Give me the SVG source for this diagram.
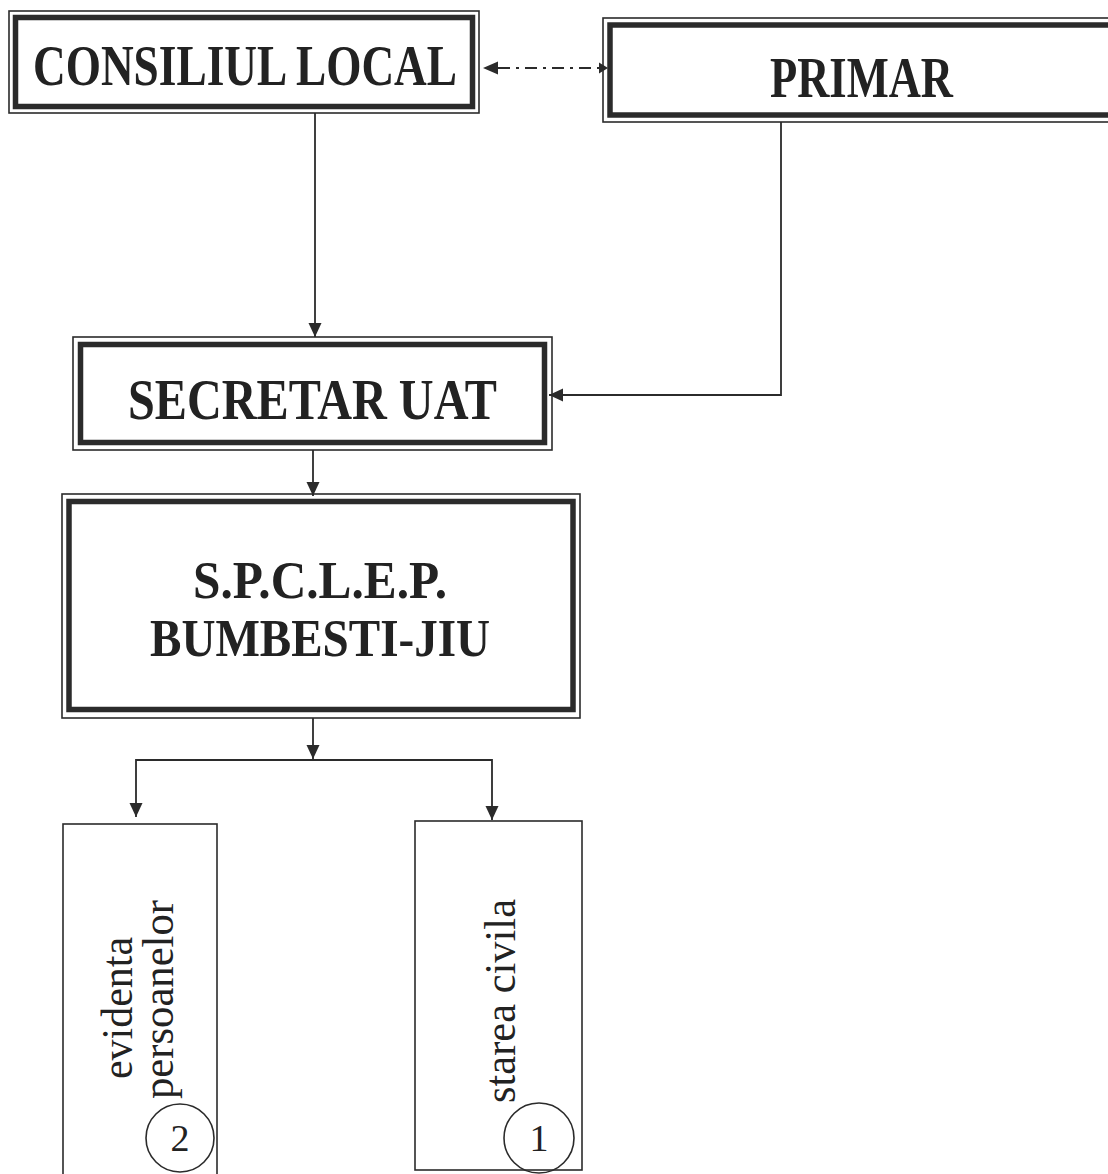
<svg xmlns="http://www.w3.org/2000/svg" width="1108" height="1174" viewBox="0 0 1108 1174">
<style>
.outer{fill:none;stroke:#2b2b2b;stroke-width:1.6}
.inner{fill:none;stroke:#2b2b2b;stroke-width:5.5}
.thin{fill:none;stroke:#2b2b2b;stroke-width:1.6}
.title{font-family:"Liberation Serif","Times New Roman",serif;font-weight:bold;fill:#222}
.lbl{font-family:"Liberation Serif","Times New Roman",serif;fill:#222}
.conn{fill:none;stroke:#2b2b2b;stroke-width:1.8}
</style>
<defs>
<marker id="arr" markerUnits="userSpaceOnUse" markerWidth="15" markerHeight="14" refX="14" refY="6.5" orient="auto-start-reverse">
<path d="M0,0 L14,6.5 L0,13 z" fill="#2b2b2b"/>
</marker>
<marker id="arrs" markerUnits="userSpaceOnUse" markerWidth="9" markerHeight="12" refX="8" refY="5.5" orient="auto">
<path d="M0,0 L8,5.5 L0,11 z" fill="#2b2b2b"/>
</marker>
</defs>
<rect width="1108" height="1174" fill="#ffffff"/>
<g id="connectors">
<line class="conn" x1="498" y1="68" x2="600" y2="68" stroke-dasharray="12 6 3 6"/>
<path d="M498,61.5 L483,68 L498,74.5 z" fill="#2b2b2b"/>
<path d="M599,62.5 L608,68 L599,73.5 z" fill="#2b2b2b"/>
<line class="conn" x1="315" y1="113" x2="315" y2="337" marker-end="url(#arr)"/>
<polyline class="conn" points="781,122 781,395 549,395" marker-end="url(#arr)"/>
<line class="conn" x1="313" y1="450" x2="313" y2="496" marker-end="url(#arr)"/>
<line class="conn" x1="313" y1="718" x2="313" y2="759" marker-end="url(#arr)"/>
<polyline class="conn" points="136,817 136,760 492,760 492,820" marker-end="url(#arr)"/>
<path d="M129.5,803 L136,817 L142.5,803 z" fill="#2b2b2b"/>
</g>
<g id="consiliul-local">
<rect class="outer" x="9" y="11" width="470" height="102"/>
<rect class="inner" x="15.5" y="17.5" width="457" height="89"/>
<text class="title" x="33" y="85" font-size="56" textLength="424" lengthAdjust="spacingAndGlyphs">CONSILIUL LOCAL</text>
</g>
<g id="primar">
<rect class="outer" x="603" y="18" width="520" height="104"/>
<rect class="inner" x="610" y="25" width="506" height="90"/>
<text class="title" x="770" y="97" font-size="56" textLength="183" lengthAdjust="spacingAndGlyphs">PRIMAR</text>
</g>
<g id="secretar-uat">
<rect class="outer" x="73" y="337" width="479" height="113"/>
<rect class="inner" x="80.5" y="344.5" width="464" height="98"/>
<text class="title" x="128" y="419" font-size="58" textLength="369" lengthAdjust="spacingAndGlyphs">SECRETAR UAT</text>
</g>
<g id="spclep">
<rect class="outer" x="62" y="494" width="518" height="224"/>
<rect class="inner" x="69" y="501.5" width="504" height="208"/>
<text class="title" x="193" y="598" font-size="52" textLength="254" lengthAdjust="spacingAndGlyphs">S.P.C.L.E.P.</text>
<text class="title" x="150" y="656" font-size="52" textLength="340" lengthAdjust="spacingAndGlyphs">BUMBESTI-JIU</text>
</g>
<g id="evidenta-persoanelor">
<rect class="thin" x="63" y="824" width="154" height="360"/>
<text class="lbl" font-size="44" transform="translate(132,1079) rotate(-90)" textLength="142" lengthAdjust="spacingAndGlyphs">evidenta</text>
<text class="lbl" font-size="44" transform="translate(173,1099) rotate(-90)" textLength="199" lengthAdjust="spacingAndGlyphs">persoanelor</text>
<circle class="thin" cx="180" cy="1138" r="34"/>
<text class="lbl" font-size="38" x="180" y="1151" text-anchor="middle">2</text>
</g>
<g id="starea-civila">
<rect class="thin" x="415" y="821" width="167" height="349"/>
<text class="lbl" font-size="44" transform="translate(515,1103) rotate(-90)" textLength="204" lengthAdjust="spacingAndGlyphs">starea civila</text>
<circle class="thin" cx="539" cy="1138" r="35"/>
<text class="lbl" font-size="38" x="539" y="1151" text-anchor="middle">1</text>
</g>
</svg>
